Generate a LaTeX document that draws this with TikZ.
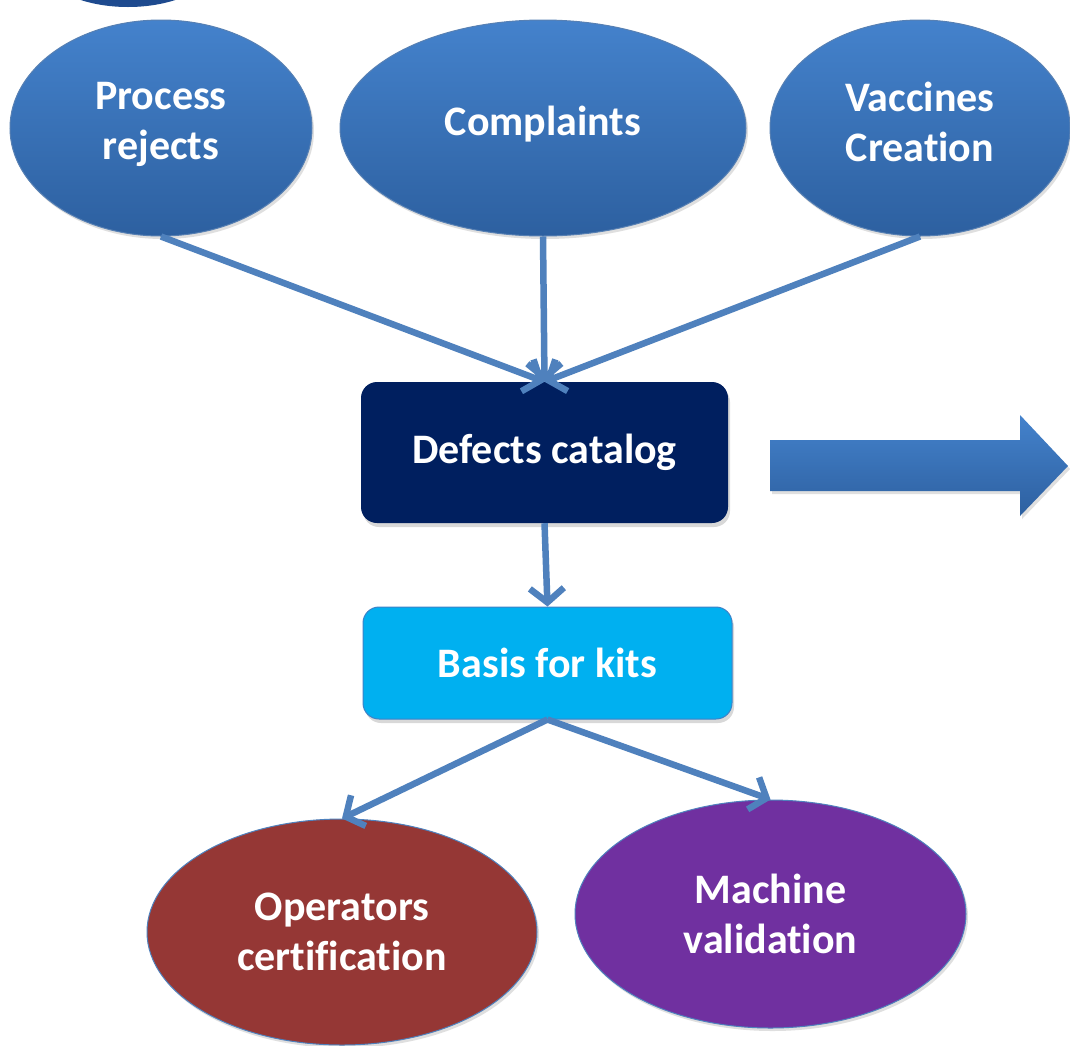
\documentclass[tikz,border=0pt]{standalone}
\usepackage{fontspec}
\setmainfont[Ligatures={NoCommon,NoContextual}]{Carlito}
\usetikzlibrary{shapes.geometric,arrows.meta,shadows}
\definecolor{elltop}{RGB}{68,130,204}
\definecolor{ellbot}{RGB}{45,96,160}
\definecolor{navy}{RGB}{0,31,95}
\definecolor{cyanbox}{RGB}{0,176,240}
\definecolor{cyanedge}{RGB}{60,130,200}
\definecolor{brick}{RGB}{149,55,53}
\definecolor{purp}{RGB}{112,48,160}
\definecolor{conn}{RGB}{79,129,189}
\tikzset{
  lbl/.style={text=white, font=\fontsize{42}{50}\selectfont\bfseries, align=center},
  blueell/.style={ellipse, inner sep=0pt, top color=elltop, bottom color=ellbot, draw=ellbot!80!white, line width=1pt,
    drop shadow={shadow xshift=2pt, shadow yshift=-3pt, opacity=0.25}},
  roundbox/.style={rectangle, rounded corners=16pt, lbl, inner sep=0pt,
    drop shadow={shadow xshift=2pt, shadow yshift=-4pt, opacity=0.3}},
  bottomell/.style={ellipse, lbl, inner sep=0pt, draw=conn, line width=1pt,
    drop shadow={shadow xshift=2pt, shadow yshift=-3pt, opacity=0.25}},
  connector/.style={draw=conn, line width=6.5pt, -{Straight Barb[length=14pt,width=34pt,line width=6.5pt]}}
}
\begin{document}
\begin{tikzpicture}[x=1pt,y=-1pt]
\useasboundingbox (0,0) rectangle (1070,1045);
\fill[white] (0,0) rectangle (1070,1045);
% partial shape cut off at the top
\begin{scope}
\clip (0,0) rectangle (1070,1045);
\shade[top color=navy!80!elltop, bottom color=navy!55!elltop] (128,-40) ellipse [x radius=90pt, y radius=47pt];
\end{scope}
% top ellipses
\node[blueell, minimum width=302pt, minimum height=216pt,
  label={[lbl, yshift=4pt]center:Process\\rejects}] (pr) at (161,128) {};
\node[blueell, minimum width=406pt, minimum height=216pt,
  label={[lbl, yshift=4pt]center:Complaints}] (co) at (543,128) {};
\node[blueell, minimum width=300pt, minimum height=216pt,
  label={[lbl, yshift=6pt]center:Vaccines\\Creation}] (va) at (920,128) {};
% boxes
\node[roundbox, fill=navy, minimum width=367pt, minimum height=141pt] (dc) at (544.5,452.5) {Defects catalog};
\node[roundbox, fill=cyanbox, draw=cyanedge, line width=1pt, minimum width=369pt, minimum height=112pt] (bk) at (547.5,663) {Basis for kits};
% bottom ellipses
\node[bottomell, fill=brick, minimum width=390pt, minimum height=226pt] (oc) at (342,932) {Operators\\certification};
\node[bottomell, fill=purp, minimum width=391pt, minimum height=228pt] (mv) at (770.5,914) {Machine\\validation};
% big arrow
\shade[top color=elltop, bottom color=ellbot, drop shadow={shadow xshift=2pt, shadow yshift=-3pt, opacity=0.25}]
  (770,440) -- (1020,440) -- (1020,415) -- (1068,466) -- (1020,516) -- (1020,491) -- (770,491) -- cycle;
% connectors
\coordinate (dctop) at (dc.north);
\draw[connector] (pr.south) -- (dctop);
\draw[connector] (co.south) -- (dctop);
\draw[connector] (va.south) -- (dctop);
\draw[connector] (dc.south) -- (bk.north);
\draw[connector] (bk.south) -- (oc.north);
\draw[connector] (bk.south) -- (mv.north);
\end{tikzpicture}
\end{document}
